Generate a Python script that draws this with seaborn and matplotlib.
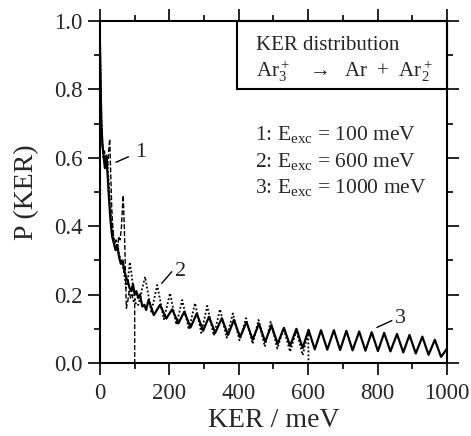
import matplotlib
matplotlib.use("Agg")
import matplotlib.pyplot as plt
from matplotlib.patches import Rectangle
import seaborn as sns
import pandas as pd

# KER distributions for Ar3+ -> Ar + Ar2+ at three excitation energies
# 1: E_exc = 100 meV
ker1 = [0, 2, 4, 7, 10, 13, 16, 19, 22, 25, 28, 31, 34, 38, 42, 46, 50, 54,
        58, 62, 65, 67, 70, 73, 76, 80, 84, 88, 92, 96, 100, 100]
p1 = [0.93, 0.80, 0.70, 0.63, 0.60, 0.62, 0.58, 0.61, 0.57, 0.62, 0.655, 0.55,
      0.45, 0.38, 0.34, 0.36, 0.33, 0.37, 0.36, 0.40, 0.46, 0.49, 0.40, 0.28,
      0.16, 0.18, 0.21, 0.19, 0.20, 0.18, 0.185, 0.0]

# 2: E_exc = 600 meV
ker2 = [0, 2, 4, 7, 10, 14, 18, 22, 26, 30, 35, 40, 45, 50, 55, 60, 65, 70,
        75, 80, 86, 92, 98, 104, 110, 116, 122, 130,
        148, 165, 184, 202, 220, 237, 256, 274, 292, 309, 328, 346, 365, 383,
        402, 421, 440, 457, 475, 492, 511, 529, 548, 566, 584, 600, 601]
p2 = [0.93, 0.82, 0.72, 0.64, 0.60, 0.58, 0.61, 0.57, 0.52, 0.46, 0.40, 0.36,
      0.33, 0.35, 0.32, 0.30, 0.29, 0.26, 0.22, 0.24, 0.295, 0.25, 0.20, 0.17,
      0.17, 0.19, 0.22, 0.252,
      0.150, 0.228, 0.128, 0.204, 0.112, 0.184, 0.098, 0.175, 0.088, 0.167,
      0.080, 0.157, 0.074, 0.145, 0.066, 0.131, 0.056, 0.126, 0.048, 0.121,
      0.042, 0.101, 0.033, 0.096, 0.023, 0.087, 0.0]

# 3: E_exc = 1000 meV
ker3 = [0, 2, 4, 7, 10, 14, 18, 22, 26, 30, 35, 40, 45, 50, 55, 60, 65, 70,
        75, 80, 85, 90, 95, 100, 105, 110, 115, 122, 128, 133, 140, 155,
        173, 191, 208, 226, 243, 261, 279, 297, 314, 332, 351, 369, 386, 404,
        422, 440, 458, 476, 494, 512, 530, 548, 566, 584, 601, 619, 637, 655,
        674, 692, 710, 728, 747, 765, 783, 801, 819, 837, 856, 874, 892, 910,
        929, 947, 965, 983, 1000]
p3 = [0.93, 0.80, 0.70, 0.64, 0.61, 0.57, 0.60, 0.55, 0.48, 0.42, 0.37, 0.35,
      0.33, 0.34, 0.31, 0.29, 0.30, 0.27, 0.25, 0.24, 0.22, 0.21, 0.23, 0.20,
      0.21, 0.19, 0.20, 0.165, 0.17, 0.155, 0.185, 0.14,
      0.170, 0.130, 0.157, 0.116, 0.150, 0.104, 0.145, 0.094, 0.135, 0.088,
      0.131, 0.082, 0.126, 0.075, 0.120, 0.068, 0.115, 0.062, 0.110, 0.056,
      0.103, 0.050, 0.100, 0.044, 0.097, 0.040, 0.096, 0.039, 0.096, 0.038,
      0.094, 0.037, 0.092, 0.036, 0.090, 0.035, 0.088, 0.034, 0.085, 0.031,
      0.082, 0.028, 0.077, 0.024, 0.068, 0.018, 0.042]

x_ticks = [0, 200, 400, 600, 800, 1000]
y_ticks = [0.0, 0.2, 0.4, 0.6, 0.8, 1.0]
y_tick_labels = ["0.0", "0.2", "0.4", "0.6", "0.8", "1.0"]

sns.set_style("ticks")
plt.rcParams["font.family"] = ["Liberation Serif", "DejaVu Serif"]
plt.rcParams["mathtext.fontset"] = "custom"
plt.rcParams["mathtext.rm"] = "Liberation Serif"
plt.rcParams["mathtext.it"] = "Liberation Serif:italic"

fig = plt.figure(figsize=(4.71, 4.36), dpi=100)
ax = fig.add_axes([0.2123, 0.1674, 0.7367, 0.7844])

df1 = pd.DataFrame({"KER": ker1, "P": p1})
df2 = pd.DataFrame({"KER": ker2, "P": p2})
df3 = pd.DataFrame({"KER": ker3, "P": p3})

sns.lineplot(data=df3, x="KER", y="P", ax=ax, sort=False, estimator=None,
             color="black", lw=1.6)
sns.lineplot(data=df2, x="KER", y="P", ax=ax, sort=False, estimator=None,
             color="black", lw=1.3, linestyle=(0, (1, 1.2)))
sns.lineplot(data=df1, x="KER", y="P", ax=ax, sort=False, estimator=None,
             color="black", lw=1.0, linestyle=(0, (3.5, 1.5)))

ax.set_xlim(0, 1000)
ax.set_ylim(0, 1.0)
ax.set_xticks(x_ticks)
ax.set_xticks(range(100, 1000, 200), minor=True)
ax.set_yticks(y_ticks)
ax.set_yticklabels(y_tick_labels)
ax.set_yticks([0.1, 0.3, 0.5, 0.7, 0.9], minor=True)

for side in ["left", "right", "top", "bottom"]:
    ax.spines[side].set_visible(True)
    ax.spines[side].set_linewidth(1.5)
    ax.spines[side].set_color("black")

ax.tick_params(which="both", direction="out", top=True, right=True,
               labeltop=False, labelright=False, color="black", width=1.2)
ax.tick_params(which="major", length=8.5, labelsize=16.5)
ax.tick_params(axis="x", which="major", pad=6)
ax.tick_params(axis="y", which="major", pad=4)
ax.tick_params(which="minor", length=4.5)

ax.set_xlabel("KER / meV", fontsize=20, labelpad=3)
ax.set_ylabel("P (KER)", fontsize=20, labelpad=11)

# header box in the upper right
ax.add_patch(Rectangle((395, 0.80), 605, 0.20, fill=False, edgecolor="black",
                       lw=1.5, clip_on=False, zorder=5))
ax.text(450, 0.915, "KER distribution", fontsize=15, va="baseline", ha="left")
ax.text(450, 0.837, r"Ar$_3^+$   $\rightarrow$  Ar  +  Ar$_2^+$",
        fontsize=15, va="baseline", ha="left")

legend_lines = [r"1: E$_{\rm exc}$ = 100 meV",
                r"2: E$_{\rm exc}$ = 600 meV",
                r"3: E$_{\rm exc}$ = 1000 meV"]
for txt, yy in zip(legend_lines, [0.652, 0.574, 0.497]):
    ax.text(446, yy, txt, fontsize=15.5, va="baseline", ha="left")

# curve labels
ax.plot([46, 82], [0.587, 0.603], color="black", lw=1.0)
ax.text(101, 0.602, "1", fontsize=16, va="baseline", ha="left")
ax.plot([178, 207], [0.233, 0.267], color="black", lw=1.0)
ax.text(216, 0.255, "2", fontsize=16, va="baseline", ha="left")
ax.plot([798, 841], [0.104, 0.124], color="black", lw=1.0)
ax.text(851, 0.117, "3", fontsize=16, va="baseline", ha="left")

fig.savefig("out.png", dpi=100)
